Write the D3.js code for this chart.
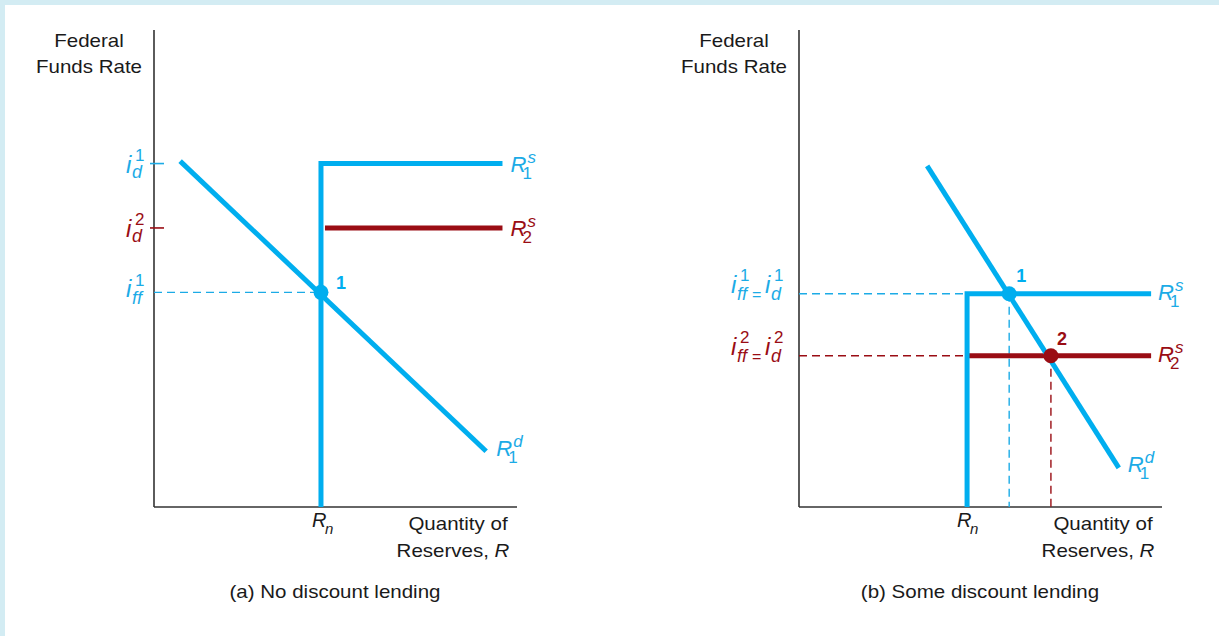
<!DOCTYPE html>
<html><head><meta charset="utf-8">
<script src="https://cdn.jsdelivr.net/npm/d3@7"></script>
<style>body{margin:0;background:#d3ecf3}svg{display:block}</style>
</head><body>
<svg id="c" width="1219" height="636"></svg>
<script>
// ---------- data ----------
const captions = ["(a) No discount lending", "(b) Some discount lending"];
const yTitle = ["Federal", "Funds Rate"];
const xTitle = ["Quantity of", "Reserves, "];
// panel (a)
const aRn = 4.6;
const aId = [7.2, 5.85];          // i_d^1, i_d^2
const aIff1 = 4.5;
const aSupplyEnd = 9.6;
const aR2Start = 4.71;
const aDemand = [[0.72, 7.25], [9.15, 1.17]];
const aEq = [[4.6, 4.5]];
// panel (b)
const bRn = 4.63;
const bRates = [4.47, 3.17];      // i_ff^1 = i_d^1, i_ff^2 = i_d^2
const bSupplyEnd = 9.7;
const bDemand = [[3.53, 7.15], [8.81, 0.82]];
const bEq = [[5.79, 4.47], [6.94, 3.17]];

// ---------- style ----------
const BLUE = "#00aeef", RED = "#9a0d14", AX = "#333", TXT = "#1a1a1a";
const LBLUE = "#1cabe6";
const SX = 1.14;
const FONT = "'Liberation Sans', Arial, sans-serif";

const svg = d3.select("#c").style("font-family", FONT);
svg.append("rect").attr("x", 5).attr("y", 5).attr("width", 1214).attr("height", 631).attr("fill", "#fff");

function txt(g, x, y, s, o = {}) {
  return g.append("text")
    .attr("transform", `translate(${x},${y}) scale(${o.sx ?? SX},1)`)
    .attr("font-size", o.size ?? 18)
    .attr("fill", o.fill ?? TXT)
    .attr("text-anchor", o.anchor ?? "start")
    .attr("font-style", o.italic ? "italic" : "normal")
    .attr("font-weight", o.bold ? "bold" : "normal")
    .text(s);
}
// i with stacked sub/sup
function iSym(g, x, base, sub, sup, color, subDy, supDy) {
  txt(g, x, base, "i", {size: 24, italic: true, fill: color, sx: 1});
  txt(g, x + 6, base + subDy, sub, {size: 18, italic: true, fill: color, sx: 1});
  txt(g, x + 9, base + supDy, sup, {size: 17, fill: color, sx: 1});
}
function rSym(g, x, base, sub, sup, color) {
  txt(g, x, base, "R", {size: 22, italic: true, fill: color, sx: 1});
  txt(g, x + 12, base + 7, sub, {size: 17, fill: color, sx: 1});
  txt(g, x + 17, base - 9, sup, {size: 17, italic: true, fill: color, sx: 1});
}

function panel(x0, idx) {
  const x = d3.scaleLinear().domain([0, 10]).range([x0, x0 + 363]);
  const y = d3.scaleLinear().domain([0, 10]).range([507, 30]);
  const g = svg.append("g");
  g.append("line").attr("x1", x(0)).attr("x2", x(0)).attr("y1", y(10)).attr("y2", y(0)).attr("stroke", AX).attr("stroke-width", 1.6);
  g.append("line").attr("x1", x(0)).attr("x2", x(10)).attr("y1", y(0)).attr("y2", y(0)).attr("stroke", AX).attr("stroke-width", 1.6);
  txt(g, x0 - 65, 47, yTitle[0], {anchor: "middle"});
  txt(g, x0 - 65, 73, yTitle[1], {anchor: "middle"});
  txt(g, x0 + 304, 530, xTitle[0], {anchor: "middle"});
  const rt = txt(g, x0 + 304 - 5, 557, xTitle[1], {anchor: "middle"});
  rt.append("tspan").attr("font-style", "italic").text("R");
  txt(g, x0 + 181, 598, captions[idx], {anchor: "middle"});
  return {g, x, y};
}

// ---------- panel (a) ----------
{
  const {g, x, y} = panel(154, 0);
  const line = d3.line().x(d => x(d[0])).y(d => y(d[1]));
  g.append("line").attr("x1", x(0)).attr("x2", x(aRn)).attr("y1", y(aIff1)).attr("y2", y(aIff1))
    .attr("stroke", LBLUE).attr("stroke-width", 1.4).attr("stroke-dasharray", "8,5");
  g.append("line").attr("x1", x(0) - 4).attr("x2", x(0) + 10).attr("y1", y(aId[0])).attr("y2", y(aId[0])).attr("stroke", LBLUE).attr("stroke-width", 1.6);
  g.append("line").attr("x1", x(0) - 4).attr("x2", x(0) + 10).attr("y1", y(aId[1])).attr("y2", y(aId[1])).attr("stroke", RED).attr("stroke-width", 1.6);
  g.append("path").attr("d", line([[aR2Start, aId[1]], [aSupplyEnd, aId[1]]])).attr("stroke", RED).attr("stroke-width", 5).attr("fill", "none");
  g.append("path").attr("d", line([[aRn, 0], [aRn, aId[0]], [aSupplyEnd, aId[0]]])).attr("stroke", BLUE).attr("stroke-width", 5).attr("fill", "none");
  g.append("path").attr("d", line(aDemand)).attr("stroke", BLUE).attr("stroke-width", 5).attr("fill", "none");
  g.selectAll(".eqa").data(aEq).join("circle").attr("cx", d => x(d[0])).attr("cy", d => y(d[1])).attr("r", 7.5).attr("fill", BLUE);
  txt(g, x(aEq[0][0]) + 15, y(aEq[0][1]) - 3, "1", {size: 18, bold: true, fill: BLUE, sx: 1});
  iSym(g, 126, y(aId[0]) + 9, "d", "1", LBLUE, 5, -12);
  iSym(g, 126, y(aId[1]) + 9, "d", "2", RED, 5, -12);
  iSym(g, 126, y(aIff1) + 5, "ff", "1", LBLUE, 7, -11);
  rSym(g, x(aSupplyEnd) + 8, y(aId[0]) + 8, "1", "s", LBLUE);
  rSym(g, x(aSupplyEnd) + 8, y(aId[1]) + 8, "2", "s", RED);
  rSym(g, x(aDemand[1][0]) + 10, y(aDemand[1][1]) + 5, "1", "d", LBLUE);
  txt(g, x(aRn) - 9, 527, "R", {size: 20, italic: true, sx: 1});
  txt(g, x(aRn) + 4, 534, "n", {size: 15, italic: true, sx: 1});
}

// ---------- panel (b) ----------
{
  const {g, x, y} = panel(799, 1);
  const line = d3.line().x(d => x(d[0])).y(d => y(d[1]));
  const cols = [LBLUE, RED];
  bRates.forEach((r, i) => {
    g.append("line").attr("x1", x(0)).attr("x2", x(bRn)).attr("y1", y(r)).attr("y2", y(r))
      .attr("stroke", cols[i]).attr("stroke-width", 1.4).attr("stroke-dasharray", "8,5");
  });
  bEq.forEach((d, i) => {
    g.append("line").attr("x1", x(d[0])).attr("x2", x(d[0])).attr("y1", y(d[1])).attr("y2", y(0))
      .attr("stroke", cols[i]).attr("stroke-width", 1.4).attr("stroke-dasharray", "8,5");
  });
  g.append("path").attr("d", line([[bRn, bRates[1]], [bSupplyEnd, bRates[1]]])).attr("stroke", RED).attr("stroke-width", 5).attr("fill", "none");
  g.append("path").attr("d", line([[bRn, 0], [bRn, bRates[0]], [bSupplyEnd, bRates[0]]])).attr("stroke", BLUE).attr("stroke-width", 5).attr("fill", "none");
  g.append("path").attr("d", line(bDemand)).attr("stroke", BLUE).attr("stroke-width", 5).attr("fill", "none");
  g.selectAll(".eqb").data(bEq).join("circle").attr("cx", d => x(d[0])).attr("cy", d => y(d[1])).attr("r", 7.5)
    .attr("fill", (d, i) => i === 0 ? BLUE : RED);
  txt(g, x(bEq[0][0]) + 7, y(bEq[0][1]) - 12, "1", {size: 18, bold: true, fill: BLUE, sx: 1});
  txt(g, x(bEq[1][0]) + 6, y(bEq[1][1]) - 11, "2", {size: 18, bold: true, fill: RED, sx: 1});
  const sups = ["1", "2"];
  bRates.forEach((r, i) => {
    const base = y(r) - 1;
    iSym(g, 731, base, "ff", sups[i], cols[i], 7, -12);
    txt(g, 752, base + 7, "=", {size: 16, fill: cols[i], sx: 1});
    iSym(g, 765, base, "d", sups[i], cols[i], 7, -12);
  });
  rSym(g, x(bSupplyEnd) + 7, y(bRates[0]) + 6, "1", "s", LBLUE);
  rSym(g, x(bSupplyEnd) + 7, y(bRates[1]) + 6, "2", "s", RED);
  rSym(g, x(bDemand[1][0]) + 9, y(bDemand[1][1]) + 4, "1", "d", LBLUE);
  txt(g, x(bRn) - 10, 527, "R", {size: 20, italic: true, sx: 1});
  txt(g, x(bRn) + 3, 534, "n", {size: 15, italic: true, sx: 1});
}
</script>
</body></html>
